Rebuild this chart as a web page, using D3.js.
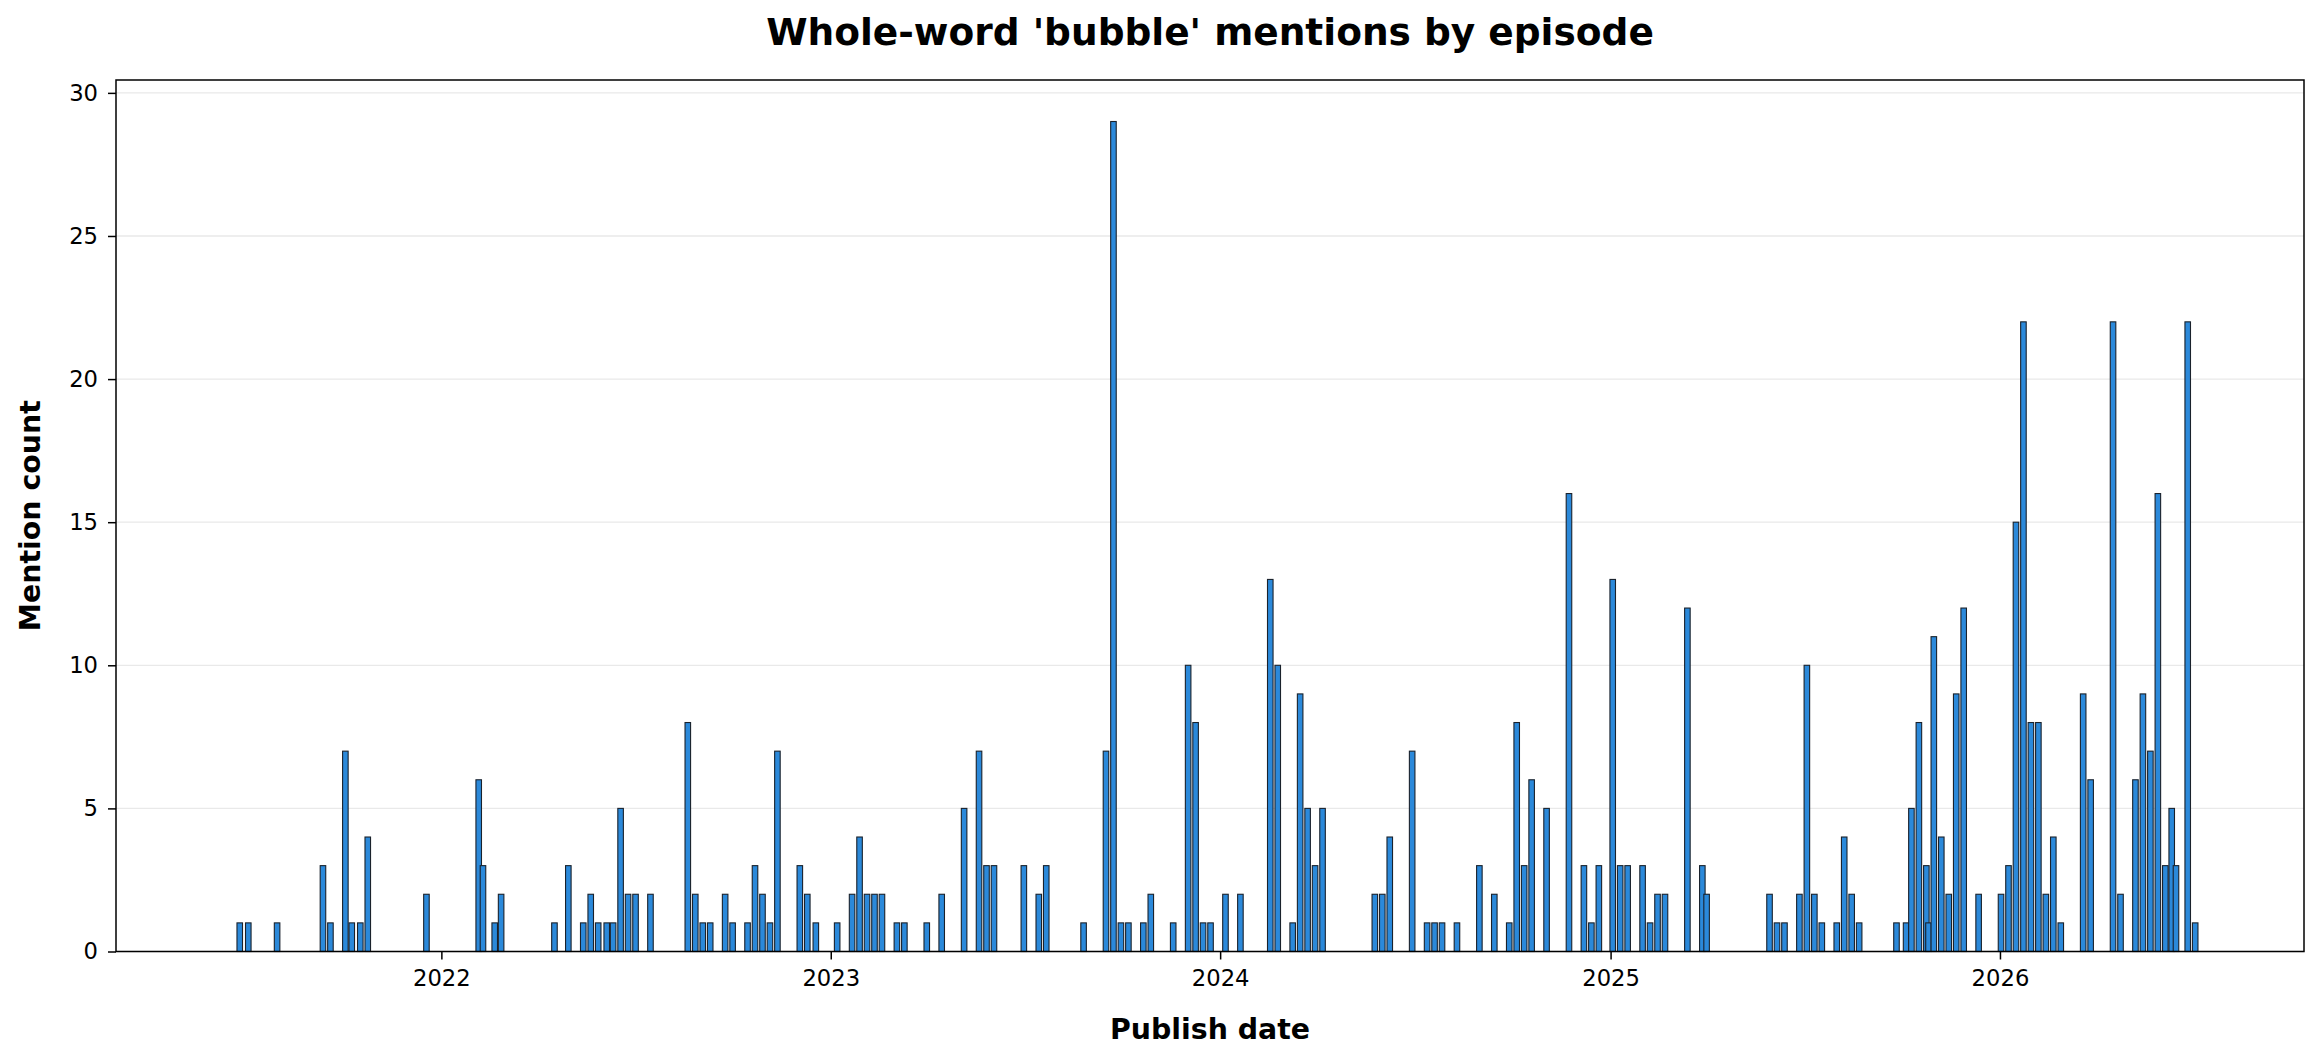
<!DOCTYPE html>
<html>
<head>
<meta charset="utf-8">
<script src="https://cdn.jsdelivr.net/npm/d3@7"></script>
<style>
  html, body { margin: 0; padding: 0; background: #ffffff; }
  svg { display: block; font-family: "DejaVu Sans", sans-serif; }
</style>
</head>
<body>
<svg id="chart" width="2322" height="1062"></svg>
<script>
// ---- Data ----
const publishDates = [
  "2021-06-26","2021-07-04","2021-07-31","2021-09-12","2021-09-19","2021-10-03","2021-10-09","2021-10-17","2021-10-24","2021-12-18",
  "2022-02-05","2022-02-09","2022-02-20","2022-02-26","2022-04-17","2022-04-30","2022-05-14","2022-05-21","2022-05-28","2022-06-05",
  "2022-06-11","2022-06-18","2022-06-25","2022-07-02","2022-07-16","2022-08-20","2022-08-27","2022-09-03","2022-09-10","2022-09-24",
  "2022-10-01","2022-10-15","2022-10-22","2022-10-29","2022-11-05","2022-11-12","2022-12-03","2022-12-10","2022-12-18",
  "2023-01-07","2023-01-21","2023-01-28","2023-02-04","2023-02-11","2023-02-18","2023-03-04","2023-03-11","2023-04-01","2023-04-15",
  "2023-05-06","2023-05-20","2023-05-27","2023-06-03","2023-07-01","2023-07-15","2023-07-22","2023-08-26","2023-09-16","2023-09-23",
  "2023-09-30","2023-10-07","2023-10-21","2023-10-28","2023-11-18","2023-12-02","2023-12-09","2023-12-16","2023-12-23",
  "2024-01-06","2024-01-20","2024-02-17","2024-02-24","2024-03-09","2024-03-16","2024-03-23","2024-03-30","2024-04-06","2024-05-25",
  "2024-06-01","2024-06-08","2024-06-29","2024-07-13","2024-07-20","2024-07-27","2024-08-10","2024-08-31","2024-09-14","2024-09-28",
  "2024-10-05","2024-10-12","2024-10-19","2024-11-02","2024-11-23","2024-12-07","2024-12-14","2024-12-21",
  "2025-01-03","2025-01-10","2025-01-17","2025-01-31","2025-02-07","2025-02-14","2025-02-21","2025-03-14","2025-03-28","2025-04-01",
  "2025-05-30","2025-06-06","2025-06-13","2025-06-27","2025-07-04","2025-07-11","2025-07-18","2025-08-01","2025-08-08","2025-08-15",
  "2025-08-22","2025-09-26","2025-10-05","2025-10-10","2025-10-17","2025-10-24","2025-10-26","2025-10-31","2025-11-07","2025-11-14",
  "2025-11-21","2025-11-28","2025-12-12",
  "2026-01-02","2026-01-09","2026-01-16","2026-01-23","2026-01-30","2026-02-06","2026-02-13","2026-02-20","2026-02-27","2026-03-20",
  "2026-03-27","2026-04-17","2026-04-24","2026-05-08","2026-05-15","2026-05-22","2026-05-29","2026-06-05","2026-06-11","2026-06-15",
  "2026-06-26","2026-07-03"
];
const mentionCounts = [
  1,1,1,3,1,7,1,1,4,2,
  6,3,1,2,1,3,1,2,1,1,
  1,5,2,2,2,8,2,1,1,2,
  1,1,3,2,1,7,3,2,1,
  1,2,4,2,2,2,1,1,1,2,
  5,7,3,3,3,2,3,1,7,29,
  1,1,1,2,1,10,8,1,1,
  2,2,13,10,1,9,5,3,5,2,
  2,4,7,1,1,1,1,3,2,1,
  8,3,6,5,16,3,1,3,
  13,3,3,3,1,2,2,12,3,2,
  2,1,1,2,10,2,1,1,4,2,
  1,1,1,5,8,3,1,11,4,2,
  9,12,2,
  2,3,15,22,8,8,2,4,1,9,
  6,22,2,6,9,7,16,3,5,3,
  22,1
];
const yTickValues = [0, 5, 10, 15, 20, 25, 30];
const xTickYears = [2022, 2023, 2024, 2025, 2026];

const titleText = "Whole-word 'bubble' mentions by episode";
const xLabelText = "Publish date";
const yLabelText = "Mention count";

(function () {
  // ---- Layout ----
  const plotLeft = 116, plotRight = 2304, plotTop = 80, plotBottom = 951.5;
  const parse = d3.utcParse("%Y-%m-%d");
  const data = publishDates.map((d, i) => ({ date: parse(d), value: mentionCounts[i] }));

  const x = d3.scaleUtc()
    .domain([parse("2021-03-02"), parse("2026-10-13")])
    .range([plotLeft, plotRight]);
  const y = d3.scaleLinear().domain([0, 30.45]).range([plotBottom, plotTop]);

  const svg = d3.select("#chart");

  // gridlines
  svg.append("g").selectAll("line").data(yTickValues).join("line")
    .attr("x1", plotLeft).attr("x2", plotRight)
    .attr("y1", d => y(d)).attr("y2", d => y(d))
    .attr("stroke", "#e9e9e9").attr("stroke-width", 1.3);

  // bars (5-day width)
  const halfSpan = 2.6 * 24 * 3600 * 1000;
  svg.append("g").selectAll("rect").data(data).join("rect")
    .attr("x", d => x(new Date(d.date.getTime() - halfSpan)))
    .attr("width", d => x(new Date(d.date.getTime() + halfSpan)) - x(new Date(d.date.getTime() - halfSpan)))
    .attr("y", d => y(d.value))
    .attr("height", d => y(0) - y(d.value))
    .attr("fill", "#2b89da")
    .attr("stroke", "#1a222c")
    .attr("stroke-width", 1.1);

  // axes
  const xAxis = d3.axisBottom(x)
    .tickValues(xTickYears.map(yr => new Date(Date.UTC(yr, 0, 1))))
    .tickFormat(d3.utcFormat("%Y"))
    .tickSize(8).tickPadding(10);
  const gx = svg.append("g").attr("transform", `translate(0,${plotBottom})`).call(xAxis);
  gx.select(".domain").remove();
  gx.selectAll(".tick line").attr("stroke", "#000").attr("stroke-width", 1.5);
  gx.selectAll(".tick text").attr("font-size", 22.7).attr("fill", "#000")
    .attr("font-family", "DejaVu Sans");

  const yAxis = d3.axisLeft(y).tickValues(yTickValues).tickSize(8).tickPadding(10);
  const gy = svg.append("g").attr("transform", `translate(${plotLeft},0)`).call(yAxis);
  gy.select(".domain").remove();
  gy.selectAll(".tick line").attr("stroke", "#000").attr("stroke-width", 1.5);
  gy.selectAll(".tick text").attr("font-size", 22.7).attr("fill", "#000")
    .attr("font-family", "DejaVu Sans");

  // frame
  svg.append("rect")
    .attr("x", plotLeft).attr("y", plotTop)
    .attr("width", plotRight - plotLeft).attr("height", plotBottom - plotTop)
    .attr("fill", "none").attr("stroke", "#000").attr("stroke-width", 1.5);

  // title and labels
  svg.append("text").attr("x", (plotLeft + plotRight) / 2).attr("y", 44.5)
    .attr("text-anchor", "middle").attr("font-weight", "bold").attr("font-size", 37.5)
    .text(titleText);
  svg.append("text").attr("x", (plotLeft + plotRight) / 2).attr("y", 1039)
    .attr("text-anchor", "middle").attr("font-weight", "bold").attr("font-size", 28.4)
    .text(xLabelText);
  svg.append("text")
    .attr("transform", `translate(39.5,${(plotTop + plotBottom) / 2}) rotate(-90)`)
    .attr("text-anchor", "middle").attr("font-weight", "bold").attr("font-size", 28.4)
    .text(yLabelText);
})();
</script>
</body>
</html>
